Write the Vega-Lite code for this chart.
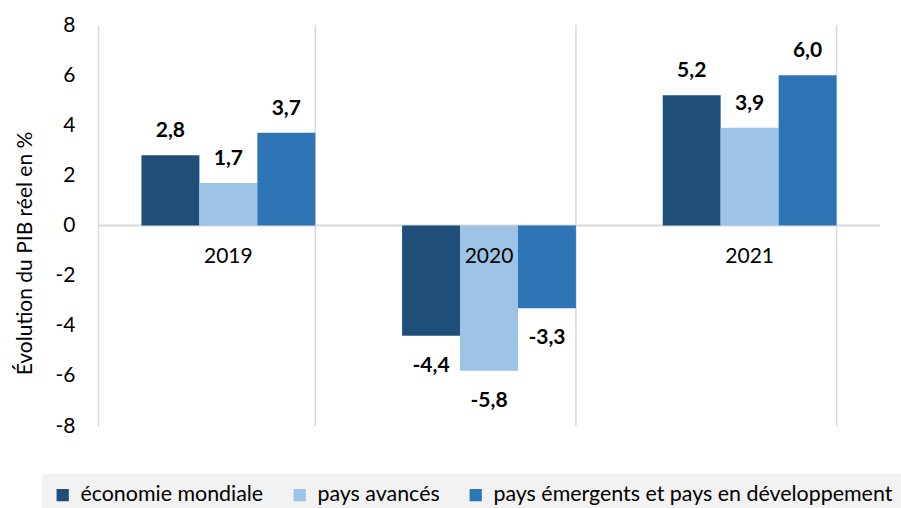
{
  "$schema": "https://vega.github.io/schema/vega-lite/v6.json",
  "width": 782,
  "height": 401,
  "autosize": {"type": "none"},
  "padding": {"left": 98, "top": 25, "right": 21, "bottom": 82},
  "background": "white",
  "config": {
    "view": {"stroke": null},
    "font": "Lato",
    "locale": {
      "number": {"decimal": ",", "thousands": "\u00a0", "grouping": [3], "currency": ["", "\u00a0€"], "minus": "-"}
    }
  },
  "datasets": {
    "bars": [
      {"year": "2019", "series": "économie mondiale", "value": 2.8},
      {"year": "2019", "series": "pays avancés", "value": 1.7},
      {"year": "2019", "series": "pays émergents et pays en développement", "value": 3.7},
      {"year": "2020", "series": "économie mondiale", "value": -4.4},
      {"year": "2020", "series": "pays avancés", "value": -5.8},
      {"year": "2020", "series": "pays émergents et pays en développement", "value": -3.3},
      {"year": "2021", "series": "économie mondiale", "value": 5.2},
      {"year": "2021", "series": "pays avancés", "value": 3.9},
      {"year": "2021", "series": "pays émergents et pays en développement", "value": 6.0}
    ],
    "years": [
      {"year": "2019"},
      {"year": "2020"},
      {"year": "2021"}
    ]
  },
  "layer": [
    {
      "data": {"name": "years"},
      "mark": {"type": "rule", "color": "#d9d9d9", "strokeWidth": 1.5},
      "encoding": {
        "x": {"field": "year", "type": "nominal", "bandPosition": 1, "scale": {"paddingInner": 0.333, "paddingOuter": 0.1667}, "axis": null}
      }
    },
    {
      "data": {"values": [{"zero": 0}]},
      "mark": {"type": "rule", "color": "#d9d9d9", "strokeWidth": 2},
      "encoding": {
        "y": {"field": "zero", "type": "quantitative"}
      }
    },
    {
      "data": {"name": "bars"},
      "mark": {"type": "bar"},
      "encoding": {
        "x": {"field": "year", "type": "nominal", "axis": null},
        "xOffset": {"field": "series", "type": "nominal", "sort": ["économie mondiale", "pays avancés", "pays émergents et pays en développement"], "scale": {"paddingInner": 0, "paddingOuter": 0}},
        "y": {
          "field": "value",
          "type": "quantitative",
          "scale": {"domain": [-8, 8], "nice": false},
          "axis": {
            "values": [-8, -6, -4, -2, 0, 2, 4, 6, 8],
            "format": "d",
            "grid": false,
            "ticks": false,
            "domainColor": "#d9d9d9",
            "domainWidth": 1.5,
            "labelFontSize": 21,
            "labelColor": "#000000",
            "labelPadding": 23,
            "title": "Évolution du PIB réel en %",
            "titleFontSize": 21,
            "titleFontWeight": "normal",
            "titleColor": "#000000",
            "titlePadding": 20,
            "titleY": 228
          }
        },
        "color": {
          "field": "series",
          "type": "nominal",
          "sort": ["économie mondiale", "pays avancés", "pays émergents et pays en développement"],
          "scale": {
            "domain": ["économie mondiale", "pays avancés", "pays émergents et pays en développement"],
            "range": ["#1f4e79", "#9dc3e6", "#2e75b6"]
          },
          "legend": {
            "orient": "none",
            "legendX": -56,
            "legendY": 449,
            "direction": "horizontal",
            "title": null,
            "fillColor": "#f2f2f2",
            "padding": 10,
            "symbolType": "square",
            "symbolSize": 150,
            "symbolStrokeWidth": 0,
            "labelFontSize": 21.4,
            "labelLimit": 0,
            "labelColor": "#000000",
            "labelOffset": 7,
            "columnPadding": 25
          }
        }
      }
    },
    {
      "data": {"name": "bars"},
      "transform": [{"filter": "datum.value >= 0"}],
      "mark": {"type": "text", "fontWeight": "bold", "fontSize": 21, "baseline": "alphabetic", "dy": -18, "color": "#000000"},
      "encoding": {
        "x": {"field": "year", "type": "nominal"},
        "xOffset": {"field": "series", "type": "nominal", "sort": ["économie mondiale", "pays avancés", "pays émergents et pays en développement"]},
        "y": {"field": "value", "type": "quantitative"},
        "text": {"field": "value", "type": "quantitative", "format": ".1f"}
      }
    },
    {
      "data": {"name": "bars"},
      "transform": [{"filter": "datum.value < 0"}],
      "mark": {"type": "text", "fontWeight": "bold", "fontSize": 21, "baseline": "alphabetic", "dy": 36, "color": "#000000"},
      "encoding": {
        "x": {"field": "year", "type": "nominal"},
        "xOffset": {"field": "series", "type": "nominal", "sort": ["économie mondiale", "pays avancés", "pays émergents et pays en développement"]},
        "y": {"field": "value", "type": "quantitative"},
        "text": {"field": "value", "type": "quantitative", "format": ".1f"}
      }
    },
    {
      "data": {"name": "years"},
      "mark": {"type": "text", "fontSize": 21, "baseline": "alphabetic", "dy": 37, "color": "#000000"},
      "encoding": {
        "x": {"field": "year", "type": "nominal"},
        "y": {"datum": 0, "type": "quantitative"},
        "text": {"field": "year", "type": "nominal"}
      }
    }
  ]
}
